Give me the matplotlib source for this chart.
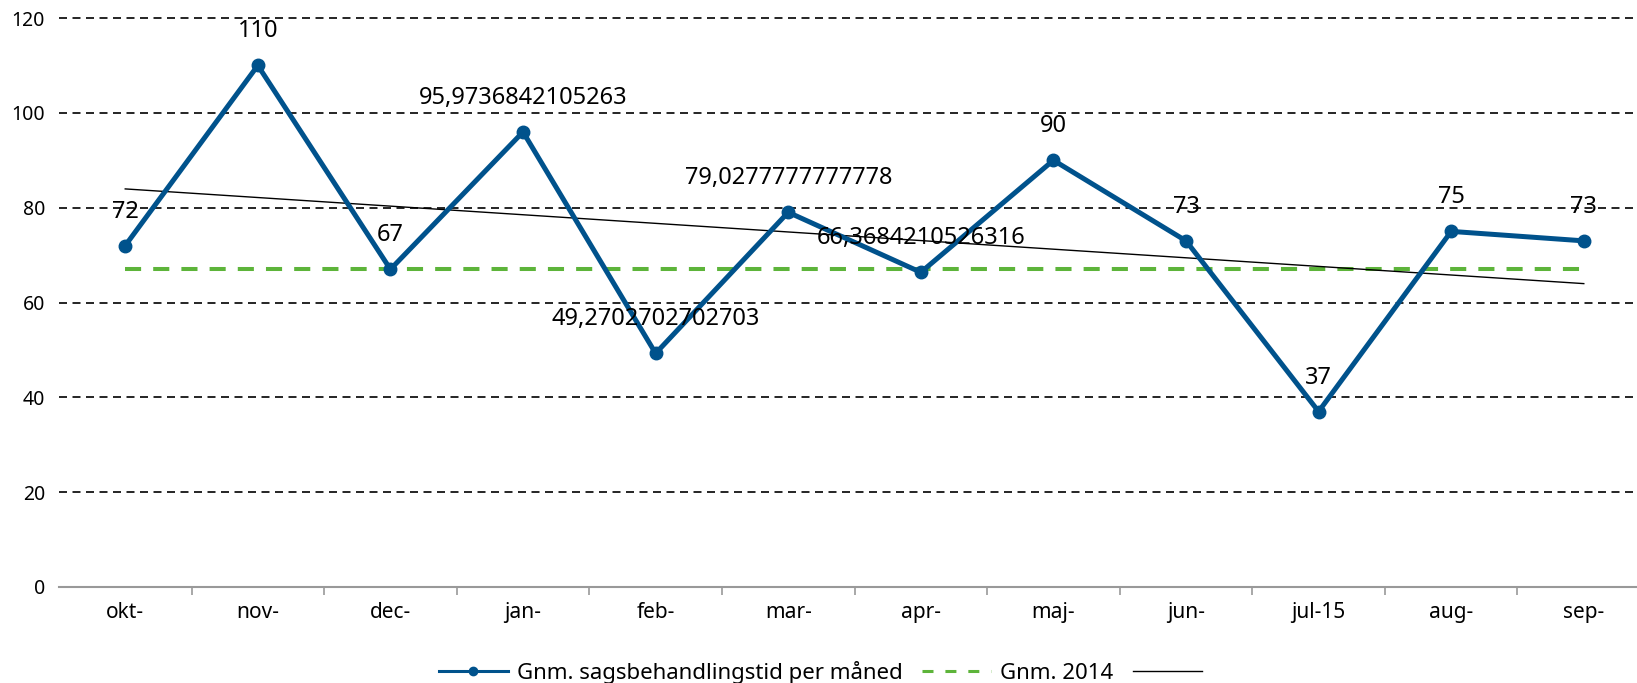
import numpy as np
import matplotlib.pyplot as plt
from matplotlib.lines import Line2D

months = ['okt-', 'nov-', 'dec-', 'jan-', 'feb-', 'mar-', 'apr-', 'maj-', 'jun-', 'jul-15', 'aug-', 'sep-']
avg_time = [72, 110, 67, 95.9736842105263, 49.2702702702703, 79.0277777777778,
            66.3684210526316, 90, 73, 37, 75, 73]
avg_2014 = [67] * 12
value_labels = ['72', '110', '67', '95,9736842105263', '49,2702702702703', '79,0277777777778',
                '66,3684210526316', '90', '73', '37', '75', '73']

blue = '#00528c'
green = '#5db43a'

plt.rcParams['font.family'] = ['Noto Sans', 'DejaVu Sans']

fig = plt.figure(figsize=(16.37, 6.83), dpi=100)
ax = fig.add_axes([0.036, 0.1406, 0.972, 0.833])

x = np.arange(len(months))

# trendline
coef = np.polyfit(x, avg_time, 1)
trend = np.polyval(coef, x)

ax.plot(x, avg_2014, '--', color=green, linewidth=2.9, dashes=(4, 3), zorder=3)
ax.plot(x, trend, color='black', linewidth=1, zorder=3)
ax.plot(x, avg_time, color=blue, linewidth=3.6, marker='o', markersize=9, zorder=4)

for xi, yi, lab in zip(x, avg_time, value_labels):
    ax.annotate(lab, (xi, yi), xytext=(0, 24.5), textcoords='offset points',
                ha='center', va='center', fontsize=17, color='black', zorder=5)

ax.set_xlim(-0.5, 11.5)
ax.set_ylim(0, 120)
ax.set_yticks(range(0, 121, 20))
ax.tick_params(axis='y', length=0, labelsize=14, pad=10)
for yv in range(20, 121, 20):
    ax.axhline(yv, color='black', linestyle=(0, (4.8, 3.3)), linewidth=1.2,
               zorder=1, clip_on=False)

ax.set_xticks(x)
ax.set_xticklabels(months)
ax.set_xticks(np.arange(0.5, 11.5, 1), minor=True)
ax.tick_params(axis='x', which='major', length=0, labelsize=15, pad=11)
ax.tick_params(axis='x', which='minor', length=6, color='#999999', width=1.2)

for s in ['top', 'right', 'left']:
    ax.spines[s].set_visible(False)
ax.spines['bottom'].set_color('#999999')
ax.spines['bottom'].set_linewidth(1.5)

handles = [
    Line2D([], [], color=blue, linewidth=2.2, marker='o', markersize=6),
    Line2D([], [], color=green, linewidth=2.2, dashes=(3.6, 3.9)),
    Line2D([], [], color='black', linewidth=1),
]
fig.legend(handles, ['Gnm. sagsbehandlingstid per måned', 'Gnm. 2014', ''],
           loc='center', bbox_to_anchor=(0.504, 0.016), ncol=3, frameon=False,
           fontsize=16, handlelength=3.1, columnspacing=0.9, handletextpad=0.4,
           borderpad=0)

plt.savefig('out.png', dpi=100)
